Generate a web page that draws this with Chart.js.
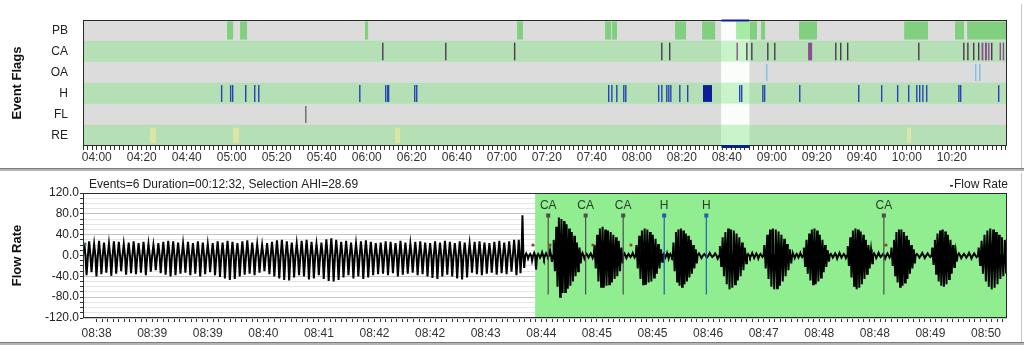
<!DOCTYPE html>
<html>
<head>
<meta charset="utf-8">
<script src="https://cdn.jsdelivr.net/npm/chart.js@4.4.0/dist/chart.umd.min.js"></script>
<style>
  html, body { margin: 0; padding: 0; background: #fff; }
  #wrap { position: relative; width: 1024px; height: 345px; overflow: hidden; }
  #flagsBox { position: absolute; left: 0; top: 0; width: 1024px; height: 168px; }
  #flowBox { position: absolute; left: 0; top: 172px; width: 1024px; height: 170px; }
  .sep { position: absolute; left: 0; width: 1024px; height: 2px; background: #b4b4b4; border-top: 1px solid #7c7c7c; }
  .edge { position: absolute; left: 1021px; width: 1px; background: #c8c8c8; }
</style>
</head>
<body>
<div id="wrap">
  <div id="flagsBox"><canvas id="flags"></canvas></div>
  <div class="sep" style="top:168px"></div>
  <div id="flowBox"><canvas id="flow"></canvas></div>
  <div class="sep" style="top:342px"></div>
  <div class="edge" style="top:4px;height:164px"></div>
  <div class="edge" style="top:173px;height:169px"></div>
</div>
<script>
// ---- event flags (minutes since midnight) ----
const FLAG_ROWS = ['PB', 'CA', 'OA', 'H', 'FL', 'RE'];
const FLAGS_MIN = 233.9;
const FLAGS_MAX = 644.5;
const TOP_TICK_LABELS = ['04:00', '04:20', '04:40', '05:00', '05:20', '05:40', '06:00', '06:20', '06:40', '07:00',
  '07:20', '07:40', '08:00', '08:20', '08:40', '09:00', '09:20', '09:40', '10:00', '10:20'];
const SELECTION = [517.6, 529.9];

const PB_EVENTS = [[297.9, 300.6], [303.7, 306.8], [359.2, 360.6], [426.8, 429.4], [465.9, 468.6], [469.0, 471.2],
  [497.0, 501.9], [509.0, 514.8], [524.1, 533.4], [535.2, 537.0], [552.1, 560.1], [598.8, 609.4],
  [621.4, 625.4], [626.8, 644.5]];
const CA_EVENTS = [[366.8, 366.8], [394.8, 394.8], [425.4, 425.4], [490.8, 490.8], [494.3, 494.3], [524.3, 524.9],
  [528.6, 528.6], [530.8, 530.8], [537.9, 537.9], [541.0, 541.0], [556.1, 557.9], [568.1, 568.1],
  [570.3, 570.3], [573.4, 573.4], [605.0, 605.0], [625.0, 625.0], [626.8, 626.8], [629.4, 629.4],
  [631.6, 631.6], [633.2, 634.0], [634.7, 635.6], [636.1, 636.5], [637.4, 637.4], [641.2, 641.8], [642.6, 643.0]];
const OA_EVENTS = [[537.4, 537.4], [630.3, 630.3], [632.1, 632.1], [644.1, 644.1]];
const H_EVENTS = [[295.2, 295.2], [299.2, 299.2], [300.1, 300.1], [305.9, 305.9], [309.9, 309.9], [311.7, 311.7],
  [356.6, 356.6], [368.1, 368.1], [369.0, 369.0], [369.4, 369.4], [381.0, 381.0], [381.9, 381.9],
  [467.2, 467.2], [468.6, 468.6], [470.8, 470.8], [473.9, 473.9], [474.8, 474.8], [489.4, 489.4],
  [490.8, 490.8], [493.0, 493.0], [493.9, 493.9], [494.8, 494.8], [498.8, 498.8], [502.3, 502.3],
  [509.4, 513.4], [525.4, 525.4], [526.3, 526.3], [535.7, 535.7], [536.5, 536.5], [552.1, 552.1],
  [578.3, 578.3], [588.5, 588.5], [595.6, 595.6], [600.5, 600.5], [604.1, 604.1], [605.4, 605.4],
  [606.8, 606.8], [608.5, 608.5], [622.8, 622.8], [623.6, 623.6], [640.5, 640.5]];
const FL_EVENTS = [[332.6, 332.6]];
const RE_EVENTS = [[263.7, 266.3], [300.6, 303.2], [372.6, 374.8], [600.1, 601.9]];

// ---- flow rate (seconds after 08:38:09) ----
const FLOW_MIN = 0;
const FLOW_MAX = 748;
const FLOW_TICK_FIRST = 11;
const FLOW_TICK_STEP = 4.5;
const BOTTOM_TICK_LABELS = ['08:38', '08:39', '08:39', '08:40', '08:41', '08:42', '08:42', '08:43', '08:44',
  '08:45', '08:45', '08:46', '08:47', '08:48', '08:48', '08:49', '08:50'];
const FLOW_Y_LABELS = [-120, -80, -40, 0, 40, 80, 120];
const FLOW_SELECTION_START = 366;
const FLOW_TITLE = 'Events=6 Duration=00:12:32, Selection AHI=28.69';

// breath segments: boundaries, then per-breath inspiratory peaks and expiratory troughs
const SEG_BOUNDS = [0, 352, 358, 380.5, 403.5, 413.5, 437.5, 447.5, 469.5, 477.5, 497.5, 515, 537.5, 551, 574,
  583, 604.5, 618.5, 639.5, 654, 674, 687, 708, 724.5, 748];
const SEG_PEAKS = [
  [24, 27, 22, 28, 25, 23, 27, 26, 22, 25, 27, 24, 26, 22, 20, 24, 26, 28, 27, 25,
   23, 26, 24, 27, 25, 22, 24, 27, 25, 28, 26, 24, 27, 29, 25, 22, 20, 24, 26, 29,
   30, 27, 25, 23, 28, 30, 26, 22, 25, 31, 33, 30, 26, 28, 25, 23, 27, 29, 26, 24,
   25, 27, 26, 24, 28, 25, 23, 26, 27, 25, 24, 27, 25, 28, 26, 24, 27, 25, 23, 26,
   27, 25, 24, 26, 28, 25, 27, 30],
  [30, 77],
  [4, 3, 5, 3, 6, 4, 10],
  [30, 55, 73, 70, 66, 60, 52, 45, 38, 25, 15],
  [5, 3, 4],
  [20, 40, 52, 55, 50, 48, 45, 40, 35, 28, 15],
  [4, 3, 5],
  [20, 38, 48, 52, 50, 45, 40, 32, 22, 12],
  [3, 5, 3],
  [25, 45, 50, 52, 48, 42, 38, 30, 20, 12],
  [4, 3, 5, 4],
  [18, 35, 45, 52, 50, 48, 42, 35, 25, 15],
  [3, 5, 4, 3],
  [20, 40, 50, 52, 50, 46, 40, 32, 22, 12],
  [4, 3, 5],
  [15, 30, 42, 50, 52, 48, 40, 30, 20, 10],
  [3, 4, 5, 3],
  [18, 35, 48, 52, 50, 46, 40, 30, 20, 12],
  [4, 5, 3, 4],
  [15, 30, 45, 50, 50, 45, 38, 30, 20, 12],
  [3, 5, 4],
  [15, 30, 42, 48, 50, 46, 40, 30, 20, 10],
  [4, 3, 5, 4],
  [15, 28, 40, 48, 52, 50, 45, 40, 35, 30]
];
const SEG_TROUGHS = [
  [-38, -32, -40, -36, -33, -39, -35, -30, -37, -34, -36, -33, -38, -31, -28, -34, -37, -40, -38, -35,
   -33, -38, -35, -40, -36, -32, -38, -41, -44, -47, -45, -40, -37, -35, -38, -33, -30, -36, -40, -44,
   -47, -48, -42, -38, -40, -46, -44, -38, -45, -49, -50, -47, -42, -38, -44, -40, -45, -42, -38, -36,
   -35, -38, -34, -40, -37, -35, -33, -38, -36, -40, -43, -45, -40, -37, -40, -44, -46, -42, -33, -36,
   -38, -35, -33, -37, -34, -36, -31, -38],
  [-34, -24],
  [-6, -10, -27, -4, -6, -3, -12],
  [-30, -60, -79, -72, -70, -64, -58, -50, -40, -30, -15],
  [-6, -4, -5],
  [-25, -50, -60, -62, -58, -55, -52, -45, -40, -30, -15],
  [-5, -3, -4],
  [-25, -45, -55, -56, -52, -50, -42, -35, -25, -12],
  [-4, -6, -3],
  [-30, -50, -58, -60, -55, -50, -42, -35, -25, -15],
  [-5, -4, -3, -6],
  [-20, -40, -55, -65, -62, -55, -48, -40, -28, -15],
  [-4, -5, -6, -3],
  [-25, -45, -60, -65, -63, -58, -50, -40, -28, -15],
  [-5, -4, -3],
  [-20, -35, -48, -55, -55, -50, -42, -32, -22, -12],
  [-4, -6, -4, -5],
  [-20, -42, -58, -65, -62, -55, -45, -35, -25, -15],
  [-5, -3, -6, -4],
  [-20, -38, -52, -60, -58, -52, -45, -35, -25, -15],
  [-4, -5, -3],
  [-18, -35, -50, -58, -60, -55, -45, -35, -22, -12],
  [-5, -4, -6, -3],
  [-18, -35, -50, -60, -65, -62, -55, -45, -40, -35]
];

const FLOW_EVENT_TIMES = [376.6, 406.9, 437.3, 470.5, 504.6, 648.3];
const FLOW_EVENT_TYPES = ['CA', 'CA', 'CA', 'H', 'H', 'CA'];
const FLOW_EVENT_RANGE = [-75, 77];
const FLOW_EVENT_LABEL_Y = 95;
const BREATH_MARK_TIMES = [364.3, 378.0, 412.8, 443.6, 650.0];
const BREATH_MARK_VALUES = [20, 20, 20, 20, 20];
const START_MARK = [{ x: 1.6, y: 22 }];

// ---------------------------------------------------------------
Chart.defaults.font.family = 'Arial, "Liberation Sans", sans-serif';
Chart.defaults.font.size = 12;
Chart.defaults.color = '#222';
Chart.defaults.animation = false;

const ROW_BG = ['#dcdcdc', '#b5dfb5'];
const ROW_SEL = ['#fbfdfb', '#c9f4c9'];

function rowData(events, row) {
  return events.map(e => ({ x: e, y: row }));
}

// parts of the PB bars that fall inside the selection are drawn lighter
const pbInSelection = PB_EVENTS
  .map(e => [Math.max(e[0], SELECTION[0]), Math.min(e[1], SELECTION[1])])
  .filter(e => e[1] > e[0]);

const flagBar = { type: 'bar', grouped: false, categoryPercentage: 1, borderWidth: 0, borderSkipped: false };
const lineBar = { ...flagBar, minBarLength: 1.4, barPercentage: 0.8 };

const flagsDecor = {
  id: 'flagsDecor',
  afterDatasetsDraw(chart) {
    const { ctx, chartArea: a, scales: { x } } = chart;
    ctx.save();
    ctx.strokeStyle = '#2a2a2a';
    ctx.lineWidth = 1;
    ctx.strokeRect(a.left + 0.5, a.top + 0.5, a.right - a.left - 1, a.bottom - a.top - 1);
    const x1 = x.getPixelForValue(SELECTION[0]);
    const x2 = x.getPixelForValue(SELECTION[1]);
    ctx.fillStyle = '#0c1f8f';
    ctx.fillRect(x1, a.top - 0.5, x2 - x1, 2);
    ctx.fillRect(x1, a.bottom - 1, x2 - x1, 3);
    ctx.restore();
  }
};

new Chart(document.getElementById('flags'), {
  data: {
    labels: FLAG_ROWS,
    datasets: [
      { ...flagBar, label: 'rows', order: 9, barPercentage: 1,
        data: FLAG_ROWS.map(r => ({ x: [FLAGS_MIN, FLAGS_MAX], y: r })),
        backgroundColor: FLAG_ROWS.map((r, i) => ROW_BG[i % 2]) },
      { ...flagBar, label: 'PB', order: 8, barPercentage: 0.86,
        data: rowData(PB_EVENTS, 'PB'), backgroundColor: '#80d080' },
      { ...flagBar, label: 'selection', order: 7, barPercentage: 1,
        data: FLAG_ROWS.map(r => ({ x: SELECTION, y: r })),
        backgroundColor: FLAG_ROWS.map((r, i) => ROW_SEL[i % 2]) },
      { ...flagBar, label: 'PB sel', order: 6, barPercentage: 0.86,
        data: rowData(pbInSelection, 'PB'), backgroundColor: '#a6eca6' },
      { ...flagBar, label: 'RE', order: 5, barPercentage: 0.74,
        data: rowData(RE_EVENTS, 'RE'), backgroundColor: '#dce6a2' },
      { ...lineBar, label: 'CA', order: 4, barPercentage: 0.84,
        data: rowData(CA_EVENTS, 'CA'),
        backgroundColor: c => (c.raw && c.raw.x[1] - c.raw.x[0] > 0.2 ? '#8f4c92' : '#4b3a4e') },
      { ...lineBar, label: 'OA', order: 3, data: rowData(OA_EVENTS, 'OA'), backgroundColor: '#7fbde6' },
      { ...lineBar, label: 'H', order: 2, data: rowData(H_EVENTS, 'H'),
        backgroundColor: c => (c.raw && c.raw.x[1] - c.raw.x[0] > 0.2 ? '#0d1e98' : '#2445b4') },
      { ...lineBar, label: 'FL', order: 1, data: rowData(FL_EVENTS, 'FL'), backgroundColor: '#6a6a6a' }
    ]
  },
  options: {
    indexAxis: 'y',
    responsive: true,
    maintainAspectRatio: false,
    layout: { padding: { left: 0, right: 17, top: 20, bottom: 0 } },
    plugins: { legend: { display: false }, tooltip: { enabled: false } },
    scales: {
      x: {
        type: 'linear', min: FLAGS_MIN, max: FLAGS_MAX, bounds: 'data',
        afterBuildTicks: s => {
          const ticks = [];
          for (let v = 234; v <= FLAGS_MAX; v += 2) ticks.push({ value: v });
          s.ticks = ticks;
        },
        afterFit: s => { s.height = 22; },
        grid: { drawOnChartArea: false, tickLength: 4, tickColor: '#333' },
        border: { display: false },
        ticks: {
          autoSkip: false, maxRotation: 0, padding: 0, color: '#333',
          callback: v => {
            const k = (v - 240) / 20;
            return Number.isInteger(k) && k >= 0 && k < TOP_TICK_LABELS.length ? TOP_TICK_LABELS[k] : '';
          }
        }
      },
      y: {
        type: 'category',
        afterFit: s => { s.width = 83; },
        grid: { display: false },
        border: { display: false },
        ticks: { padding: 7, color: '#222' },
        title: { display: true, text: 'Event Flags', font: { size: 13, weight: 'bold' }, color: '#111', padding: { top: 10, bottom: 0 } }
      }
    }
  },
  plugins: [flagsDecor]
});

// ---- flow rate chart ----
function buildFlow() {
  const pts = [];
  SEG_PEAKS.forEach((peaks, k) => {
    const s = SEG_BOUNDS[k];
    const p = (SEG_BOUNDS[k + 1] - s) / peaks.length;
    peaks.forEach((pk, j) => {
      const t = s + j * p;
      pts.push({ x: t, y: 0 }, { x: t + 0.25 * p, y: pk }, { x: t + 0.5 * p, y: 0 },
        { x: t + 0.72 * p, y: SEG_TROUGHS[k][j] });
    });
  });
  pts.push({ x: FLOW_MAX, y: 0 });
  return pts;
}

function markerData(type) {
  const pts = [];
  FLOW_EVENT_TIMES.forEach((t, i) => {
    if (FLOW_EVENT_TYPES[i] !== type) return;
    pts.push({ x: t, y: FLOW_EVENT_RANGE[0] }, { x: t, y: FLOW_EVENT_RANGE[1] }, { x: t, y: null });
  });
  return pts;
}

const markerBase = {
  type: 'line', borderWidth: 1.2, spanGaps: false, pointStyle: 'rect', order: 1,
  pointRadius: c => (c.raw && c.raw.y === FLOW_EVENT_RANGE[1] ? 2 : 0)
};

const flowDecor = {
  id: 'flowDecor',
  afterDatasetsDraw(chart) {
    const { ctx, chartArea: a, scales: { x, y } } = chart;
    ctx.save();
    ctx.strokeStyle = '#2a2a2a';
    ctx.lineWidth = 1;
    ctx.strokeRect(a.left + 0.5, a.top + 0.5, a.right - a.left - 1, a.bottom - a.top - 1);
    ctx.font = '12px Arial, "Liberation Sans", sans-serif';
    ctx.textAlign = 'center';
    ctx.textBaseline = 'middle';
    FLOW_EVENT_TIMES.forEach((t, i) => {
      ctx.fillStyle = '#2e3a2e';
      ctx.fillText(FLOW_EVENT_TYPES[i], x.getPixelForValue(t), y.getPixelForValue(FLOW_EVENT_LABEL_Y));
    });
    ctx.fillStyle = '#222';
    ctx.textAlign = 'left';
    ctx.fillText(FLOW_TITLE, a.left + 6, 13);
    ctx.textAlign = 'right';
    ctx.fillText('Flow Rate', a.right + 1, 13);
    const w = ctx.measureText('Flow Rate').width;
    ctx.fillRect(a.right + 1 - w - 4, 13, 3, 1.5);
    ctx.restore();
  }
};

new Chart(document.getElementById('flow'), {
  type: 'line',
  data: {
    datasets: [
      { label: 'selection', order: 9, data: [{ x: FLOW_SELECTION_START, y: 120 }, { x: FLOW_MAX, y: 120 }],
        fill: 'start', backgroundColor: '#90ee90', borderWidth: 0, pointRadius: 0 },
      { label: 'Flow Rate', order: 3, data: buildFlow(), borderColor: '#000', borderWidth: 2,
        pointRadius: 0, tension: 0 },
      { ...markerBase, label: 'CA', data: markerData('CA'), borderColor: '#4e4e4e', backgroundColor: '#4e4e4e' },
      { ...markerBase, label: 'H', data: markerData('H'), borderColor: '#1f5fb0', backgroundColor: '#1f5fb0' },
      { label: 'marks', order: 0, showLine: false, pointStyle: 'rect', pointRadius: 2, borderWidth: 0,
        backgroundColor: '#8a4b1c', data: BREATH_MARK_TIMES.map((t, i) => ({ x: t, y: BREATH_MARK_VALUES[i] })) },
      { label: 'start', order: 0, showLine: false, pointStyle: 'rect', pointRadius: 2, borderWidth: 0,
        backgroundColor: '#2f7d46', data: START_MARK }
    ]
  },
  options: {
    responsive: true,
    maintainAspectRatio: false,
    layout: { padding: { left: 0, right: 17, top: 21, bottom: 0 } },
    plugins: { legend: { display: false }, tooltip: { enabled: false } },
    scales: {
      x: {
        type: 'linear', min: FLOW_MIN, max: FLOW_MAX, bounds: 'data',
        afterBuildTicks: s => {
          const ticks = [];
          for (let k = 0; FLOW_TICK_FIRST + k * FLOW_TICK_STEP <= FLOW_MAX; k++) {
            ticks.push({ value: FLOW_TICK_FIRST + k * FLOW_TICK_STEP });
          }
          s.ticks = ticks;
        },
        afterFit: s => { s.height = 24; },
        grid: { drawOnChartArea: false, tickLength: 4, tickColor: '#333' },
        border: { display: false },
        ticks: {
          autoSkip: false, maxRotation: 0, padding: 4, color: '#333',
          callback: (v, i) => (i % 10 === 0 && BOTTOM_TICK_LABELS[i / 10] ? BOTTOM_TICK_LABELS[i / 10] : '')
        }
      },
      y: {
        min: -120, max: 120,
        afterFit: s => { s.width = 83; },
        grid: {
          color: c => (c.tick && FLOW_Y_LABELS.includes(c.tick.value) ? '#c6c6c6' : '#e6e6e6'),
          tickLength: 3, tickColor: '#333'
        },
        border: { display: false },
        ticks: {
          stepSize: 10, autoSkip: false, padding: 1, color: '#222',
          callback: v => (FLOW_Y_LABELS.includes(v) ? v.toFixed(1) : '')
        },
        title: { display: true, text: 'Flow Rate', font: { size: 13, weight: 'bold' }, color: '#111', padding: { top: 10, bottom: 0 } }
      }
    }
  },
  plugins: [flowDecor]
});
</script>
</body>
</html>
